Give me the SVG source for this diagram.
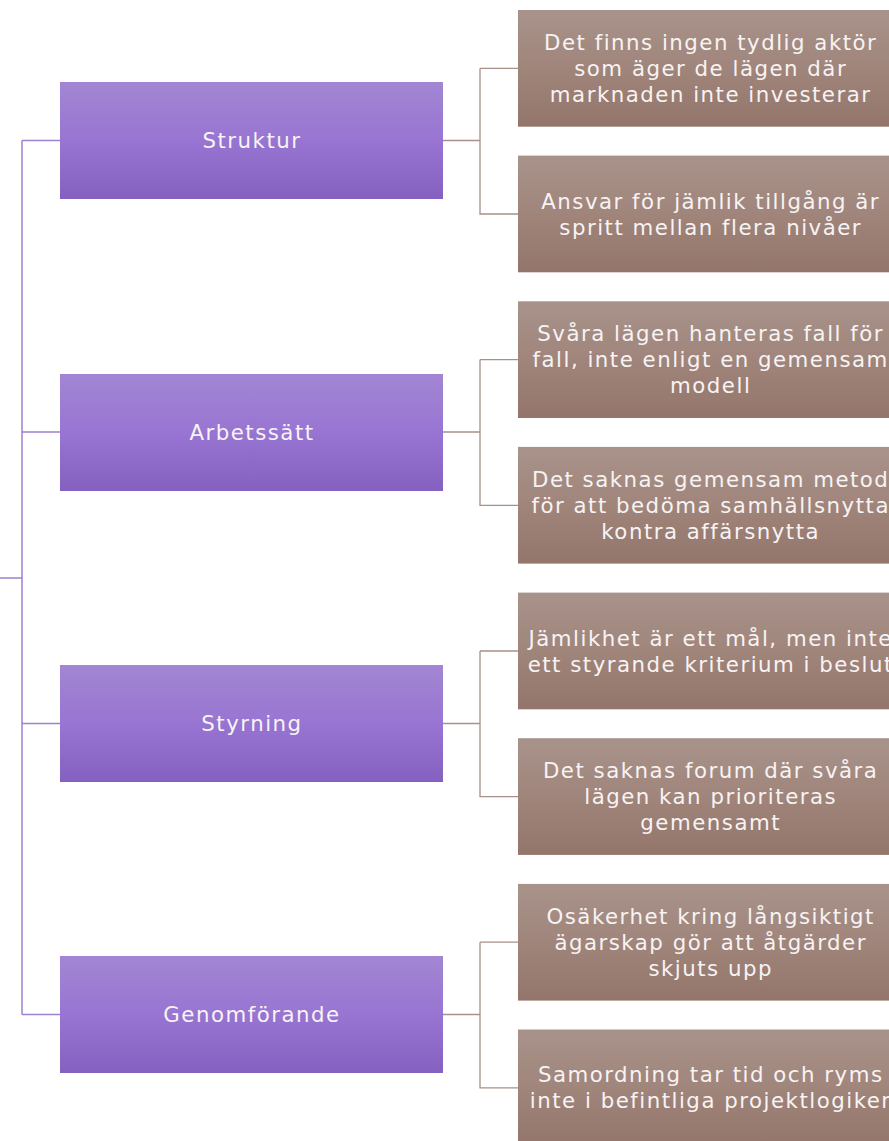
<svg xmlns="http://www.w3.org/2000/svg" width="889" height="1141" viewBox="0 0 889 1141">
<defs>
<linearGradient id="gp" x1="0" y1="0" x2="0" y2="1"><stop offset="0" stop-color="#a286d3"/><stop offset="0.5" stop-color="#9875d2"/><stop offset="1" stop-color="#8460c0"/></linearGradient>
<linearGradient id="gb" x1="0" y1="0" x2="0" y2="1"><stop offset="0" stop-color="#a8938b"/><stop offset="0.5" stop-color="#a0857b"/><stop offset="1" stop-color="#93756b"/></linearGradient>
<style>
.p{fill:url(#gp)}
.b{fill:url(#gb)}
text{font-family:"DejaVu Sans",Verdana,sans-serif;font-size:21.3px;letter-spacing:1.5px;fill:#f7f3f4;text-anchor:middle;dominant-baseline:central}
.lp{fill:none;stroke:#9e80d2;stroke-width:1.5}
.lb{fill:none;stroke:#a89088;stroke-width:1.3}
</style>
</defs>
<g id="connectors">
<path class="lp" d="M0 578H22M22 140.5V1014.5M22 140.5H60M22 432H60M22 723.5H60M22 1014.5H60"/>
<path class="lb" d="M443 140.5H480M480 68.3V214H518M480 68.3H518"/>
<path class="lb" d="M443 432H480M480 359.6V505.3H518M480 359.6H518"/>
<path class="lb" d="M443 723.5H480M480 651V796.6H518M480 651H518"/>
<path class="lb" d="M443 1014.5H480M480 942.2V1087.9H518M480 942.2H518"/>
</g>
<g id="struktur"><rect class="p" x="60" y="82" width="383" height="117"/><text x="252" y="140.5">Struktur</text></g>
<g id="arbetssatt"><rect class="p" x="60" y="374" width="383" height="117"/><text x="252" y="432">Arbetssätt</text></g>
<g id="styrning"><rect class="p" x="60" y="665" width="383" height="117"/><text x="252" y="723.5">Styrning</text></g>
<g id="genomforande"><rect class="p" x="60" y="956" width="383" height="117"/><text x="252" y="1014.5">Genomförande</text></g>
<g id="b1"><rect class="b" x="518" y="10" width="384" height="116.7"/><text x="710.7" y="42.3">Det finns ingen tydlig aktör</text><text x="710.7" y="68.3">som äger de lägen där</text><text x="710.7" y="94.3">marknaden inte investerar</text></g>
<g id="b2"><rect class="b" x="518" y="155.6" width="384" height="116.7"/><text x="710.7" y="201">Ansvar för jämlik tillgång är</text><text x="710.7" y="227">spritt mellan flera nivåer</text></g>
<g id="b3"><rect class="b" x="518" y="301.3" width="384" height="116.7"/><text x="710.7" y="333.6">Svåra lägen hanteras fall för</text><text x="710.7" y="359.6">fall, inte enligt en gemensam</text><text x="710.7" y="385.6">modell</text></g>
<g id="b4"><rect class="b" x="518" y="446.9" width="384" height="116.7"/><text x="710.7" y="479.3">Det saknas gemensam metod</text><text x="710.7" y="505.3">för att bedöma samhällsnytta</text><text x="710.7" y="531.3">kontra affärsnytta</text></g>
<g id="b5"><rect class="b" x="518" y="592.6" width="384" height="116.7"/><text x="710.7" y="638">Jämlikhet är ett mål, men inte</text><text x="710.7" y="664">ett styrande kriterium i beslut</text></g>
<g id="b6"><rect class="b" x="518" y="738.2" width="384" height="116.7"/><text x="710.7" y="770.6">Det saknas forum där svåra</text><text x="710.7" y="796.6">lägen kan prioriteras</text><text x="710.7" y="822.6">gemensamt</text></g>
<g id="b7"><rect class="b" x="518" y="883.9" width="384" height="116.7"/><text x="710.7" y="916.2">Osäkerhet kring långsiktigt</text><text x="710.7" y="942.2">ägarskap gör att åtgärder</text><text x="710.7" y="968.2">skjuts upp</text></g>
<g id="b8"><rect class="b" x="518" y="1029.5" width="384" height="116.7"/><text x="710.7" y="1074.9">Samordning tar tid och ryms</text><text x="710.7" y="1100.9">inte i befintliga projektlogiker</text></g>
</svg>
